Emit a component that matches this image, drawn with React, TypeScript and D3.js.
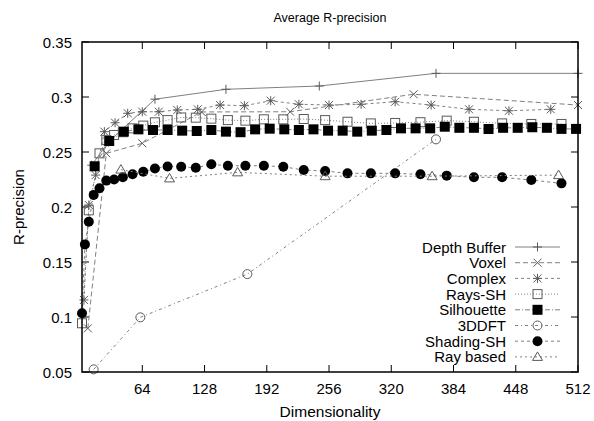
import React from 'react';
import * as d3 from 'd3';

const title = 'Average R-precision';
const xLabel = 'Dimensionality';
const yLabel = 'R-precision';
const xTicks = [64, 128, 192, 256, 320, 384, 448, 512];
const yTicks = [0.05, 0.1, 0.15, 0.2, 0.25, 0.3, 0.35];

const depthDims = [12, 29, 77, 150, 246, 366, 512];
const depthVals = [0.238, 0.259, 0.298, 0.307, 0.31, 0.3215, 0.3215];

const voxelDims = [8, 27, 64, 125, 216, 343, 512];
const voxelVals = [0.0897, 0.2488, 0.2579, 0.2864, 0.2866, 0.3025, 0.2927];

const complexDims = [4, 9, 16, 25, 36, 49, 64, 81, 100, 121, 144, 169, 196, 225, 256, 289, 324, 361, 400, 441, 484];
const complexVals = [0.1155, 0.2018, 0.229, 0.2685, 0.2766, 0.2852, 0.2866, 0.2866, 0.2882, 0.2888, 0.2927, 0.2921, 0.2966, 0.2934, 0.2927, 0.2934, 0.2957, 0.2927, 0.2888, 0.2875, 0.2888];

const raysDims = [2, 9, 20, 27, 35, 44, 54, 65, 77, 90, 104, 119, 135, 152, 170, 189, 209, 230, 252, 275, 299, 324, 350, 377, 405, 434, 464, 495];
const raysVals = [0.0943, 0.197, 0.2488, 0.261, 0.2655, 0.268, 0.2715, 0.274, 0.277, 0.279, 0.2814, 0.2812, 0.2803, 0.279, 0.2785, 0.2797, 0.2797, 0.28, 0.279, 0.2775, 0.276, 0.2764, 0.2771, 0.2785, 0.2775, 0.276, 0.2755, 0.2755];

const silDims = [15, 30, 45, 60, 75, 90, 105, 120, 135, 150, 165, 180, 195, 210, 225, 240, 255, 270, 285, 300, 315, 330, 345, 360, 375, 390, 405, 420, 435, 450, 465, 480, 495, 510];
const silVals = [0.237, 0.26, 0.2685, 0.2706, 0.27, 0.27, 0.2694, 0.2691, 0.27, 0.2685, 0.268, 0.2706, 0.2712, 0.2706, 0.27, 0.2706, 0.2694, 0.2694, 0.2685, 0.2694, 0.27, 0.2715, 0.2715, 0.2715, 0.273, 0.272, 0.272, 0.2709, 0.272, 0.272, 0.2725, 0.272, 0.271, 0.271];

const dftDims = [14, 62, 172, 366];
const dftVals = [0.0524, 0.0997, 0.139, 0.2615];

const shadDims = [2, 5, 9, 14, 20, 27, 35, 44, 54, 65, 77, 90, 104, 119, 135, 152, 170, 189, 209, 230, 252, 275, 299, 324, 350, 377, 405, 434, 464, 495];
const shadVals = [0.1034, 0.166, 0.1866, 0.211, 0.217, 0.224, 0.225, 0.227, 0.2297, 0.232, 0.235, 0.2368, 0.2366, 0.2357, 0.2388, 0.2375, 0.2375, 0.2375, 0.2366, 0.2336, 0.2327, 0.2306, 0.2306, 0.2306, 0.2297, 0.2285, 0.227, 0.227, 0.2245, 0.2215];

const rayDims = [42, 92, 162, 252, 362, 492];
const rayVals = [0.234, 0.226, 0.2315, 0.228, 0.228, 0.229];

type Marker = 'plus' | 'cross' | 'star' | 'boxOpen' | 'boxFilled' | 'circleOpen' | 'circleFilled' | 'triangle';

const series: { name: string; dims: number[]; vals: number[]; marker: Marker; dash: string }[] = [
  { name: 'Depth Buffer', dims: depthDims, vals: depthVals, marker: 'plus', dash: '' },
  { name: 'Voxel', dims: voxelDims, vals: voxelVals, marker: 'cross', dash: '5,3' },
  { name: 'Complex', dims: complexDims, vals: complexVals, marker: 'star', dash: '3,3' },
  { name: 'Rays-SH', dims: raysDims, vals: raysVals, marker: 'boxOpen', dash: '1,2' },
  { name: 'Silhouette', dims: silDims, vals: silVals, marker: 'boxFilled', dash: '5,2,1,2' },
  { name: '3DDFT', dims: dftDims, vals: dftVals, marker: 'circleOpen', dash: '3,3,1,3' },
  { name: 'Shading-SH', dims: shadDims, vals: shadVals, marker: 'circleFilled', dash: '3,3' },
  { name: 'Ray based', dims: rayDims, vals: rayVals, marker: 'triangle', dash: '2,3' },
];

const W = 594;
const H = 421;
const left = 82;
const right = 578;
const top = 42;
const bottom = 372;
const LINE = '#808080';
const MARK = '#5a5a5a';
const FONT = '"Liberation Sans", Arial, Helvetica, sans-serif';

function MarkerShape({ type, x, y }: { type: Marker; x: number; y: number }) {
  const s = 4.5;
  switch (type) {
    case 'plus':
      return <path d={`M${x - s},${y}H${x + s}M${x},${y - s}V${y + s}`} stroke={MARK} strokeWidth={1} fill="none" />;
    case 'cross':
      return <path d={`M${x - 4},${y - 4}L${x + 4},${y + 4}M${x - 4},${y + 4}L${x + 4},${y - 4}`} stroke={MARK} strokeWidth={1} fill="none" />;
    case 'star':
      return <path d={`M${x - 4},${y - 4}L${x + 4},${y + 4}M${x - 4},${y + 4}L${x + 4},${y - 4}M${x - s},${y}H${x + s}M${x},${y - s}V${y + s}`} stroke={MARK} strokeWidth={1} fill="none" />;
    case 'boxOpen':
      return <rect x={x - 4.5} y={y - 4.5} width={9} height={9} stroke={MARK} strokeWidth={1} fill="none" />;
    case 'boxFilled':
      return <rect x={x - 5} y={y - 5} width={10} height={10} fill="#000" />;
    case 'circleOpen':
      return <circle cx={x} cy={y} r={4.5} stroke={MARK} strokeWidth={1} fill="none" />;
    case 'circleFilled':
      return <circle cx={x} cy={y} r={5} fill="#000" />;
    case 'triangle':
      return <path d={`M${x},${y - 5}L${x + 5},${y + 3.5}L${x - 5},${y + 3.5}Z`} stroke={MARK} strokeWidth={1} fill="none" />;
  }
  return null;
}

export default function App() {
  const x = d3.scaleLinear().domain([2, 512]).range([left, right]);
  const y = d3.scaleLinear().domain([0.05, 0.35]).range([bottom, top]);
  const line = d3
    .line<[number, number]>()
    .x((d) => x(d[0]))
    .y((d) => y(d[1]));

  const legendX = 506;
  const legendY0 = 247;
  const legendDy = 15.7;

  return (
    <svg width={W} height={H} style={{ position: 'absolute', left: 0, top: 0, background: '#fff' }} fontFamily={FONT}>
      <rect x={0} y={0} width={W} height={H} fill="#fff" />
      <text x={(left + right) / 2} y={21.5} textAnchor="middle" fontSize={12.5}>{title}</text>
      {yTicks.map((t) => (
        <g key={'y' + t}>
          <line x1={left} x2={left + 7} y1={y(t)} y2={y(t)} stroke="#000" strokeWidth={1} />
          <line x1={right} x2={right - 7} y1={y(t)} y2={y(t)} stroke="#000" strokeWidth={1} />
          <text x={72} y={y(t) + 5.5} textAnchor="end" fontSize={15}>{String(t)}</text>
        </g>
      ))}
      {xTicks.map((t) => (
        <g key={'x' + t}>
          <line x1={x(t)} x2={x(t)} y1={bottom} y2={bottom - 7} stroke="#000" strokeWidth={1} />
          <line x1={x(t)} x2={x(t)} y1={top} y2={top + 7} stroke="#000" strokeWidth={1} />
          <text x={x(t)} y={393.5} textAnchor="middle" fontSize={15}>{String(t)}</text>
        </g>
      ))}
      <text x={(left + right) / 2} y={416.5} textAnchor="middle" fontSize={15.5}>{xLabel}</text>
      <text transform={`translate(23.5,${(top + bottom) / 2}) rotate(-90)`} textAnchor="middle" fontSize={15}>{yLabel}</text>
      {series.map((s) => {
        const pts: [number, number][] = s.dims.map((d, i) => [d, s.vals[i]]);
        return (
          <g key={s.name}>
            <path d={line(pts) || ''} fill="none" stroke={LINE} strokeWidth={1} strokeDasharray={s.dash || undefined} />
            {pts.map((p, i) => (
              <MarkerShape key={i} type={s.marker} x={x(p[0])} y={y(p[1])} />
            ))}
          </g>
        );
      })}
      {series.map((s, i) => {
        const ly = legendY0 + i * legendDy;
        return (
          <g key={'leg' + s.name}>
            <text x={legendX} y={ly + 5.5} textAnchor="end" fontSize={15}>{s.name}</text>
            <line x1={515} x2={560} y1={ly} y2={ly} stroke={LINE} strokeWidth={1} strokeDasharray={s.dash || undefined} />
            <MarkerShape type={s.marker} x={537.5} y={ly} />
          </g>
        );
      })}
      <rect x={left} y={top} width={right - left} height={bottom - top} fill="none" stroke="#000" strokeWidth={1.5} />
    </svg>
  );
}
